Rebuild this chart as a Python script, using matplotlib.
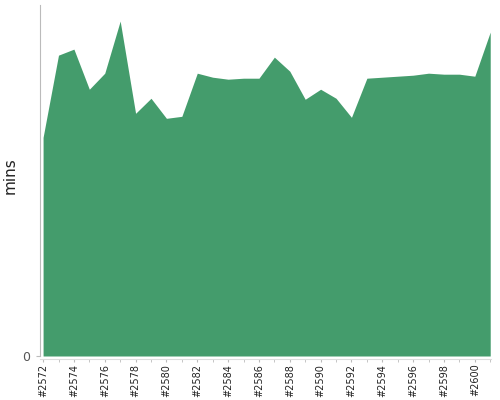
import numpy as np
import matplotlib
matplotlib.use("Agg")
import matplotlib.pyplot as plt

# build numbers and durations (mins)
builds = list(range(2572, 2602))
mins = [21.8, 30.0, 30.6, 26.6, 28.2, 33.4, 24.2, 25.7, 23.7, 23.9,
        28.2, 27.8, 27.6, 27.7, 27.7, 29.8, 28.4, 25.6, 26.6, 25.7,
        23.8, 27.7, 27.8, 27.9, 28.0, 28.2, 28.1, 28.1, 27.9, 32.3]
tick_labels = ["#%d" % b for b in builds]

GREEN = "#449c6c"
GREY = "#bbbbbb"

fig = plt.figure(figsize=(5, 4), dpi=100)
ax = fig.add_axes([0.08, 0.11, 0.902, 0.8775])

x = np.arange(len(builds))
ax.fill_between(x, 0, mins, color=GREEN, linewidth=0)

ax.set_xlim(-0.2, len(builds) - 0.95)
ax.set_ylim(0, 35)

ax.set_xticks(x, minor=True)
ax.set_xticks(x[::2])
ax.set_xticklabels(tick_labels[::2])
ax.tick_params(axis="x", which="both", length=2, color=GREY, pad=1.5,
               labelrotation=90, labelsize=7, labelcolor="#222222")

ax.set_yticks([0])
ax.set_yticklabels(["0"])
ax.tick_params(axis="y", length=3, color=GREY, pad=4, labelsize=9,
               labelcolor="#555555")
ax.set_ylabel("mins", fontsize=11, color="#222222")
ax.yaxis.set_label_coords(-0.049, 0.513)

for side in ["top", "right"]:
    ax.spines[side].set_visible(False)
ax.spines["left"].set_color(GREY)
ax.spines["bottom"].set_color("#dddddd")
ax.spines["bottom"].set_position(("outward", 2))

fig.savefig("out.png", dpi=100)
